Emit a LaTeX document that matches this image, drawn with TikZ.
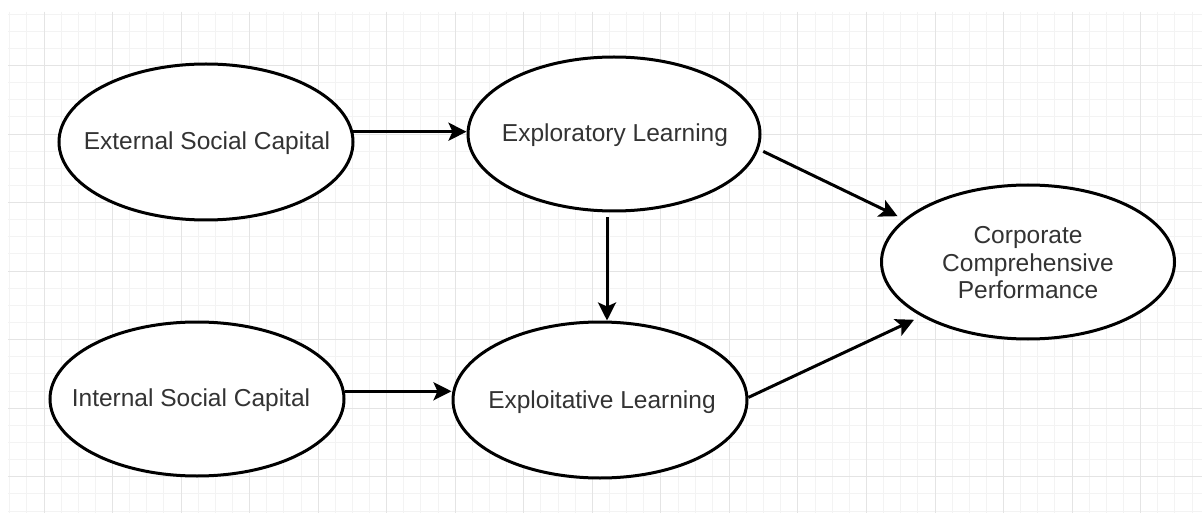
\documentclass[tikz,border=0pt]{standalone}
\usepackage{fontspec}
\setmainfont{Liberation Sans}
\usetikzlibrary{shapes.geometric,arrows.meta,calc}

\definecolor{labeltext}{RGB}{51,51,51}
\definecolor{gridminor}{RGB}{243,243,243}
\definecolor{gridmajor}{RGB}{228,228,228}

\tikzset{
  concept/.style={ellipse, draw=black, line width=3pt, fill=white,
    inner sep=0pt},
  caption/.style={text=labeltext, align=center, inner sep=0pt,
    font=\fontsize{24.5pt}{27.5pt}\selectfont},
  arr/.style={line width=3pt, draw=black,
    -{Stealth[length=18pt,width=18pt,inset=4pt]}},
}

\begin{document}
\begin{tikzpicture}[x=1pt,y=-1pt]
  % page and background
  \useasboundingbox (0,0) rectangle (1202,513);
  \fill[white] (0,0) rectangle (1202,513);

  % drawing-canvas grid
  \begin{scope}
    \clip (8,12) rectangle (1202,513);
    \foreach \i in {0,...,69}
      \draw[gridminor, line width=1pt] ({9.73+17.135*\i},12) -- ++(0,501);
    \foreach \i in {0,...,29}
      \draw[gridminor, line width=1pt] (8,{14.1+17.135*\i}) -- ++(1194,0);
    \foreach \i in {0,...,16}
      \draw[gridmajor, line width=1pt] ({44+68.54*\i},12) -- ++(0,501);
    \foreach \i in {0,...,6}
      \draw[gridmajor, line width=1pt] (8,{65.5+68.54*\i}) -- ++(1194,0);
  \end{scope}

  % concepts (outline) with their captions
  \node[concept, minimum width=294pt, minimum height=156pt] (esc) at (206,142) {};
  \node[concept, minimum width=292pt, minimum height=154pt] (exr) at (614,134) {};
  \node[concept, minimum width=294pt, minimum height=154pt] (isc) at (197,399) {};
  \node[concept, minimum width=294pt, minimum height=156pt] (exl) at (600,400) {};
  \node[concept, minimum width=293pt, minimum height=154pt] (ccp) at (1028,262) {};

  \node[caption] (esct) at ($(esc.center)+(1,1)$) {External Social Capital};
  \node[caption] (exrt) at ($(exr.center)+(1,1)$) {Exploratory Learning};
  \node[caption] (isct) at ($(isc.center)+(-6,1)$) {Internal Social Capital};
  \node[caption] (exlt) at ($(exl.center)+(2,2)$) {Exploitative Learning};
  \node[caption] (ccpt) at ($(ccp.center)+(0,1)$) {Corporate\\Comprehensive\\Performance};

  % relations
  \draw[arr] (esc.4) -- (esc.4 -| exr.west);
  \draw[arr, shorten <=5pt] ($(exr.south)+(-7,0)$) -- ($(exl.north)+(7,0)$);
  \draw[arr] (isc.3) -- (isc.3 -| exl.west);
  \draw[arr, shorten <=5pt, shorten >=7pt] (exr.-6) -- (ccp.161);
  \draw[arr, shorten >=8pt] (exl.1) -- (ccp.207);
\end{tikzpicture}
\end{document}
